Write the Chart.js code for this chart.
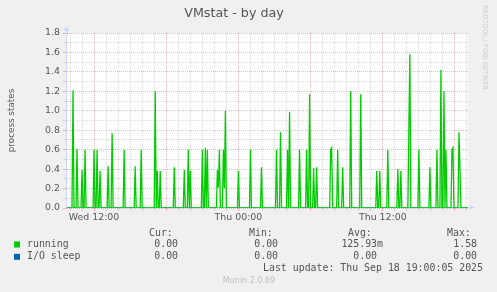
<!DOCTYPE html>
<html>
<head>
<meta charset="utf-8">
<title>VMstat - by day</title>
<script src="https://cdn.jsdelivr.net/npm/chart.js@4.4.1/dist/chart.umd.min.js"></script>
<style>
    html, body { margin: 0; padding: 0; background: #f0f0f0; }
    canvas { display: block; }
</style>
</head>
<body>
<canvas id="graficoVmstat" width="497" height="292"></canvas>
<script>
// Tiempo en minutos desde el miércoles 00:00 (una muestra cada 5 minutos)
const rangoInicio = 585;
const rangoFin = 2585;
const paso = 5;

// running: solo las muestras distintas de cero
const runningTimes = [
    615, 635, 660, 675, 720, 735, 750, 790, 810, 870, 925, 955,
    1025, 1035, 1050, 1120, 1170, 1190, 1200, 1260, 1275, 1285,
    1335, 1340, 1345, 1365, 1370, 1375, 1440, 1500, 1555,
    1630, 1650, 1685, 1695, 1745, 1780, 1795, 1815, 1830,
    1900, 1905, 1935, 1960, 2000, 2050, 2130, 2145, 2185,
    2235, 2250, 2290, 2295, 2340, 2395, 2430, 2450, 2465, 2475,
    2505, 2510, 2540, 2545
];
const runningValues = [
    1.21, 0.61, 0.39, 0.6, 0.6, 0.6, 0.38, 0.43, 0.77, 0.6, 0.43, 0.6,
    1.2, 0.38, 0.38, 0.42, 0.39, 0.6, 0.38, 0.6, 0.62, 0.6,
    0.39, 0.21, 0.6, 0.6, 0.2, 1.0, 0.38, 0.6, 0.42,
    0.6, 0.78, 0.6, 0.99, 0.6, 0.6, 1.17, 0.41, 0.42,
    0.6, 0.62, 0.6, 0.42, 1.2, 1.17, 0.38, 0.38, 0.6,
    0.4, 0.38, 0.81, 1.58, 0.6, 0.42, 0.6, 1.42, 1.2, 0.6,
    0.6, 0.62, 0.78, 0.4
];

// I/O sleep: cero todo el día
const ioSleepTimes = [585, 2585];
const ioSleepValues = [0, 0];

const xTickMinutes = [720, 1440, 2160];
const xTickLabels = ['Wed 12:00', 'Thu 00:00', 'Thu 12:00'];

const legendNames = ['running', 'I/O sleep'];
const legendCur = ['0.00', '0.00'];
const legendMin = ['0.00', '0.00'];
const legendAvg = ['125.93m', '0.00'];
const legendMax = ['1.58', '0.00'];
const lastUpdate = 'Last update: Thu Sep 18 19:00:05 2025';

const colores = ['#00cc00', '#0066b3'];

// serie con ceros entre muestras
function construirSerie(times, values) {
    const pts = [{ x: rangoInicio, y: 0 }];
    for (let i = 0; i < times.length; i++) {
        const t = times[i];
        const prev = i > 0 ? times[i - 1] : -Infinity;
        const next = i < times.length - 1 ? times[i + 1] : Infinity;
        if (t - prev > paso) pts.push({ x: t - paso, y: 0 });
        pts.push({ x: t, y: values[i] });
        if (next - t > paso) pts.push({ x: t + paso, y: 0 });
    }
    pts.push({ x: rangoFin, y: 0 });
    return pts;
}

const gridMenor = 'rgba(140, 140, 140, 0.32)';
const gridMayor = 'rgba(222, 79, 79, 0.4)';

const fondoCanvas = {
    id: 'fondoCanvas',
    beforeDraw(chart) {
        const { ctx, chartArea: a } = chart;
        ctx.save();
        ctx.fillStyle = '#ffffff';
        ctx.fillRect(a.left, a.top, a.right - a.left, a.bottom - a.top);
        ctx.restore();
    }
};

const ejes = {
    id: 'ejes',
    afterDatasetsDraw(chart) {
        const { ctx, chartArea: a } = chart;
        ctx.save();
        ctx.strokeStyle = '#cfd6f8';
        ctx.fillStyle = '#cfd6f8';
        ctx.lineWidth = 1;
        ctx.beginPath();
        ctx.moveTo(a.left - 0.5, a.bottom + 0.5);
        ctx.lineTo(a.left - 0.5, a.top - 4);
        ctx.stroke();
        ctx.beginPath();
        ctx.moveTo(a.left - 3, a.top - 2);
        ctx.lineTo(a.left - 0.5, a.top - 7);
        ctx.lineTo(a.left + 2, a.top - 2);
        ctx.fill();
        ctx.beginPath();
        ctx.moveTo(a.right + 2, a.bottom - 3);
        ctx.lineTo(a.right + 7, a.bottom - 0.5);
        ctx.lineTo(a.right + 2, a.bottom + 2);
        ctx.fill();
        ctx.restore();
    }
};

const leyenda = {
    id: 'leyenda',
    afterDraw(chart) {
        const ctx = chart.ctx;
        ctx.save();
        ctx.font = '9.9px "DejaVu Sans Mono"';
        ctx.fillStyle = '#555';
        ctx.textBaseline = 'middle';

        const headers = ['Cur:', 'Min:', 'Avg:', 'Max:'];
        const headerX = [149, 249, 348, 447];
        const valueX = [184, 284, 383, 483];
        ctx.textAlign = 'left';
        headers.forEach((h, i) => ctx.fillText(h, headerX[i], 233));

        const filas = [legendCur, legendMin, legendAvg, legendMax];
        legendNames.forEach((nombre, r) => {
            const y = 244.5 + r * 12.3;
            ctx.fillStyle = colores[r];
            ctx.fillRect(14, y - 3, 6, 6);
            ctx.fillStyle = '#555';
            ctx.textAlign = 'left';
            ctx.fillText(nombre, 27, y);
            ctx.textAlign = 'right';
            filas.forEach((col, c) => {
                const v = col[r];
                const txt = /[a-zA-Z]$/.test(v) ? v : v + ' ';
                ctx.fillText(txt, valueX[c], y);
            });
        });
        ctx.textAlign = 'right';
        ctx.fillText(lastUpdate, 483, 268.5);

        ctx.font = '8px "DejaVu Sans"';
        ctx.fillStyle = '#c0c0c0';
        ctx.textAlign = 'center';
        ctx.fillText('Munin 2.0.69', 249, 281);

        ctx.translate(485, 5);
        ctx.rotate(Math.PI / 2);
        ctx.font = '6.6px "DejaVu Sans"';
        ctx.fillStyle = '#cccccc';
        ctx.textAlign = 'left';
        ctx.fillText('RRDTOOL / TOBI OETIKER', 0, 0);
        ctx.restore();
    }
};

const ctxVmstat = document.getElementById('graficoVmstat').getContext('2d');
new Chart(ctxVmstat, {
    type: 'line',
    data: {
        datasets: [{
            label: legendNames[0],
            data: construirSerie(runningTimes, runningValues),
            borderColor: colores[0],
            backgroundColor: colores[0],
            borderWidth: 1.3,
            pointRadius: 0,
            tension: 0,
            fill: false
        }, {
            label: legendNames[1],
            data: ioSleepTimes.map((t, i) => ({ x: t, y: ioSleepValues[i] })),
            borderColor: colores[1],
            backgroundColor: colores[1],
            borderWidth: 1,
            pointRadius: 0,
            fill: false
        }]
    },
    options: {
        responsive: false,
        animation: false,
        devicePixelRatio: 1,
        layout: { padding: { left: 0, right: 29, top: 0, bottom: 0 } },
        scales: {
            x: {
                type: 'linear',
                min: rangoInicio,
                max: rangoFin,
                afterFit: (s) => { s.height = 84; },
                afterBuildTicks: (s) => {
                    const t = [];
                    for (let m = 600; m < rangoFin; m += 60) t.push({ value: m });
                    s.ticks = t;
                },
                ticks: {
                    autoSkip: false,
                    maxRotation: 0,
                    padding: 1,
                    color: '#555',
                    font: { family: 'DejaVu Sans', size: 9.4 },
                    callback: (v) => {
                        const i = xTickMinutes.indexOf(v);
                        return i >= 0 ? xTickLabels[i] : '';
                    }
                },
                grid: {
                    tickLength: 3,
                    color: (c) => (c.tick && c.tick.value % 360 === 0 ? gridMayor : gridMenor)
                },
                border: { display: false, dash: [1, 1] }
            },
            y: {
                min: 0,
                max: 1.8,
                afterFit: (s) => { s.width = 67; },
                afterBuildTicks: (s) => {
                    const t = [];
                    for (let k = 0; k <= 18; k++) t.push({ value: k / 10 });
                    s.ticks = t;
                },
                ticks: {
                    autoSkip: false,
                    padding: 3,
                    color: '#555',
                    font: { family: 'DejaVu Sans', size: 9.4 },
                    callback: (v) => (Math.round(v * 10) % 2 === 0 ? v.toFixed(1) : '')
                },
                grid: {
                    tickLength: 4,
                    color: (c) => (c.tick && Math.round(c.tick.value * 10) % 2 === 0 ? gridMayor : gridMenor)
                },
                border: { display: false, dash: [1, 1] },
                title: {
                    display: true,
                    text: 'process states',
                    color: '#555',
                    font: { family: 'DejaVu Sans', size: 8.8 },
                    padding: { top: 6, bottom: 0 }
                }
            }
        },
        plugins: {
            legend: { display: false },
            tooltip: { enabled: false },
            title: {
                display: true,
                text: 'VMstat - by day',
                color: '#555',
                font: { family: 'DejaVu Sans', size: 12.7, weight: 'normal' },
                padding: { top: 6, bottom: 11.76 }
            }
        }
    },
    plugins: [fondoCanvas, ejes, leyenda]
});
</script>
</body>
</html>
